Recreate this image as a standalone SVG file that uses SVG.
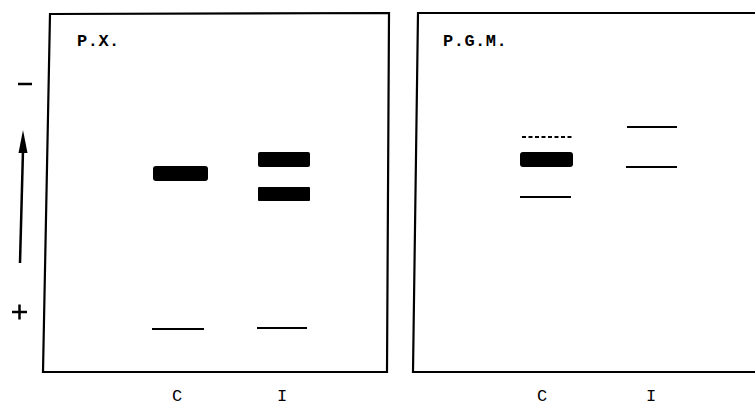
<svg xmlns="http://www.w3.org/2000/svg" width="755" height="406" viewBox="0 0 755 406">
  <style>
    .frame { fill: none; stroke: #000; stroke-width: 2.2; stroke-linejoin: miter; }
    .band { fill: #000; }
    .thin { stroke: #000; stroke-width: 2; fill: none; }
    .lbl { font-family: "Liberation Mono", "DejaVu Sans Mono", monospace; font-size: 17px; fill: #000; }
    .title { font-family: "Liberation Mono", "DejaVu Sans Mono", monospace; font-size: 17px; font-weight: bold; letter-spacing: 0.5px; fill: #000; }
  </style>
  <rect width="755" height="406" fill="#fff"/>

  <!-- polarity signs -->
  <g id="polarity">
    <line x1="18" y1="84" x2="32" y2="84" stroke="#000" stroke-width="2.5"/>
    <line x1="12" y1="312" x2="27" y2="312" stroke="#000" stroke-width="2.5"/>
    <line x1="19.5" y1="304.5" x2="19.5" y2="319.5" stroke="#000" stroke-width="2.5"/>
  </g>
  <!-- migration direction arrow -->
  <g id="connectors">
    <line x1="20" y1="263" x2="23" y2="150" stroke="#000" stroke-width="2.5"/>
    <path d="M18.5,153 L23,130 L27.5,153 Z" fill="#000"/>
  </g>

  <!-- P.X. gel -->
  <g id="gel-px">
    <path class="frame" d="M50,14 L389,13 L387,372 L43,372 Z"/>
    <text class="title" x="77" y="46">P.X.</text>
    <rect class="band" x="153" y="166" width="55" height="15" rx="3"/>
    <rect class="band" x="258" y="152" width="52" height="15" rx="2"/>
    <rect class="band" x="258" y="187" width="52" height="14" rx="1"/>
    <line class="thin" x1="152" y1="329" x2="204" y2="329"/>
    <line class="thin" x1="257" y1="328" x2="307" y2="328"/>
    <text class="lbl" x="172" y="401">C</text>
    <text class="lbl" x="277" y="401">I</text>
  </g>

  <!-- P.G.M. gel -->
  <g id="gel-pgm">
    <path class="frame" d="M757,13 L418,13 L413,372 L757,372"/>
    <text class="title" x="443" y="46">P.G.M.</text>
    <line class="thin" x1="522" y1="137" x2="573" y2="137" stroke-dasharray="4,2.5"/>
    <rect class="band" x="520" y="152" width="53" height="15" rx="3"/>
    <line class="thin" x1="520" y1="197" x2="571" y2="197"/>
    <line class="thin" x1="627" y1="127" x2="677" y2="127"/>
    <line class="thin" x1="626" y1="167" x2="677" y2="167"/>
    <text class="lbl" x="537" y="401">C</text>
    <text class="lbl" x="646" y="401">I</text>
  </g>
</svg>
